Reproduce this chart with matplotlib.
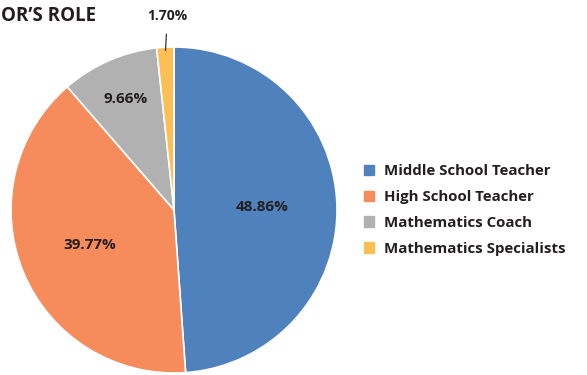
import numpy as np
import matplotlib.pyplot as plt

roles = ["Middle School Teacher", "High School Teacher",
         "Mathematics Coach", "Mathematics Specialists"]
shares = [48.86, 39.77, 9.66, 1.70]
colors = ["#4f81bd", "#f68b5b", "#b1b1b1", "#fbbf56"]

family = ['Open Sans', 'DejaVu Sans']
plt.rcParams['font.family'] = family
text_color = "#231f20"

fig = plt.figure(figsize=(5.87, 3.75), dpi=100)
W, H = 587, 375
cx, cy, r = 174, 210, 163
ax = fig.add_axes([(cx - r) / W, (H - cy - r) / H, 2 * r / W, 2 * r / H])

wedges, _ = ax.pie(shares, colors=colors, startangle=90, counterclock=False,
                   radius=1.0, wedgeprops=dict(edgecolor="white", linewidth=1.2))
ax.set_xlim(-1, 1)
ax.set_ylim(-1, 1)
ax.set_aspect("equal")
ax.axis("off")

# percentage labels placed along each wedge's bisector
label_dist = [0.54, 0.56, 0.74]
for w, val, d in zip(wedges[:3], shares[:3], label_dist):
    mid = np.deg2rad((w.theta1 + w.theta2) / 2)
    ax.text(d * np.cos(mid), d * np.sin(mid), f"{val:.2f}%",
            ha="center", va="center", fontsize=11, fontweight="bold",
            color=text_color)

# small slice gets an outside label with a leader line
w = wedges[3]
mid = np.deg2rad((w.theta1 + w.theta2) / 2)
ax.annotate(f"{shares[3]:.2f}%",
            xy=(0.98 * np.cos(mid), 0.98 * np.sin(mid)),
            xytext=(-0.04, 1.19), ha="center", va="center",
            fontsize=10, fontweight="bold", color=text_color,
            arrowprops=dict(arrowstyle="-", color="#333333", lw=0.9,
                            shrinkA=6, shrinkB=0),
            annotation_clip=False)

fig.text(1 / W, 1 - 16 / H, "OR\u2019S ROLE", ha="left", va="center",
         fontsize=13.5, fontweight="bold", color=text_color)

handles = [plt.Rectangle((0, 0), 1, 1, color=c) for c in colors]
fig.legend(handles, roles, loc="center left",
           bbox_to_anchor=(350 / W, 1 - 210 / H), frameon=False,
           prop=dict(family=family, weight="bold", size=10.8),
           labelcolor=text_color, handlelength=0.7, handleheight=0.7,
           handletextpad=0.65, labelspacing=0.78)

fig.savefig("out.png", dpi=100)
